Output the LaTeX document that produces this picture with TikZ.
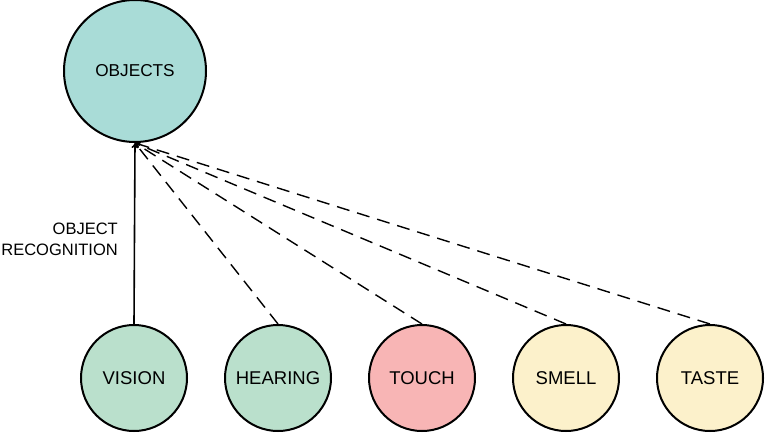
\documentclass[tikz,border=0pt]{standalone}
\usepackage{fontspec}
\setmainfont{Liberation Sans}
\usetikzlibrary{arrows.meta}
\definecolor{objteal}{HTML}{A9DCD7}
\definecolor{senseGreen}{HTML}{BAE0CC}
\definecolor{sensePink}{HTML}{F8B5B5}
\definecolor{senseYellow}{HTML}{FCF1CB}
\begin{document}
\begin{tikzpicture}[x=1pt, y=1pt,
        sense/.style={circle, draw, line width=2pt, minimum size=106pt, inner sep=0pt, font=\fontsize{18.5}{20}\selectfont},
        link/.style={line width=1.4pt, dash pattern=on 13pt off 8pt, -{To[length=5pt, width=7pt]}}]

        \useasboundingbox (0,0) rectangle (765,432);

        \node[circle, draw, line width=2pt, fill=objteal, minimum size=142pt, inner sep=0pt, font=\fontsize{17.2}{20}\selectfont] (objects) at (135,361) {OBJECTS};

        \foreach \n/\t/\c [count=\i] in {vision/VISION/senseGreen, hearing/HEARING/senseGreen, touch/TOUCH/sensePink, smell/SMELL/senseYellow, taste/TASTE/senseYellow}
        {
                \node[sense, fill=\c] (\n) at (134+144*\i-144, 54) {\t};
        }

        \draw[line width=1.6pt, -{To[length=5pt, width=7pt]}] (vision.north) -- (objects.south);
        \foreach \n in {hearing, touch, smell, taste}
        {
                \draw[link] (\n.north) -- (objects.south);
        }

        \node[anchor=east, align=right, inner sep=0pt, font=\fontsize{16.5}{21}\selectfont] (recog) at (118,193) {OBJECT\\RECOGNITION};

\end{tikzpicture}
\end{document}
